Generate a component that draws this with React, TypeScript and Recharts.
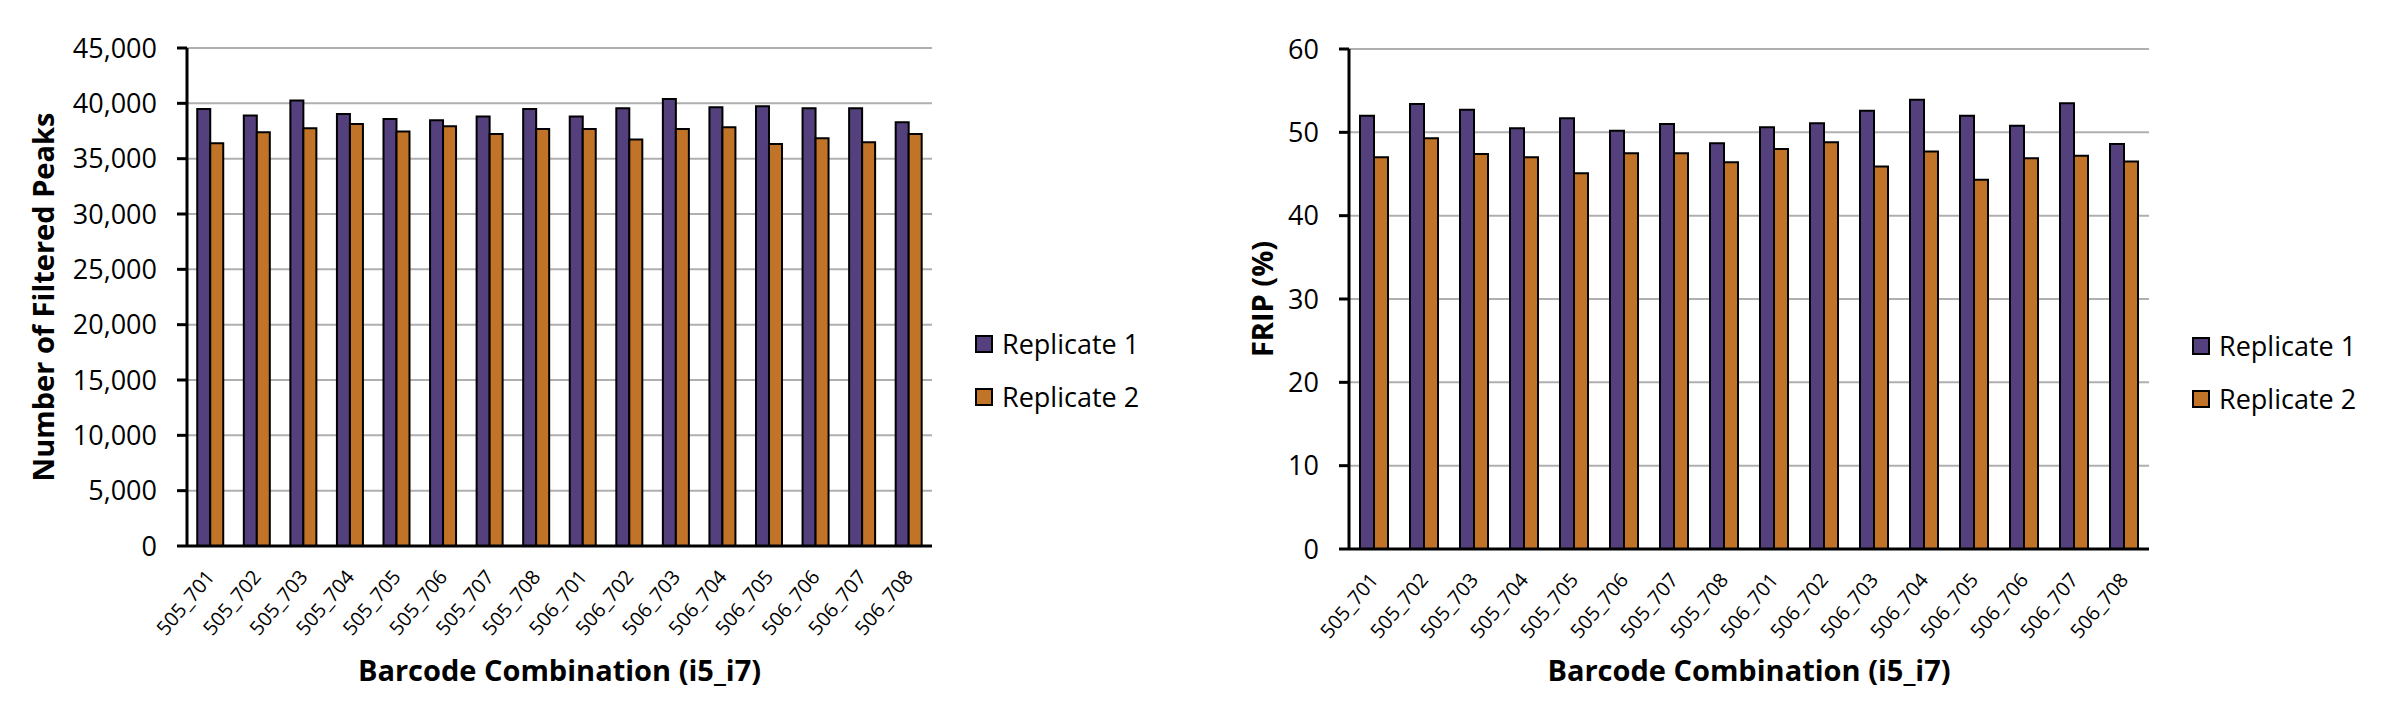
import { BarChart, Bar, XAxis, YAxis, CartesianGrid, Legend, Label } from 'recharts';

const barcodes = [
  '505_701', '505_702', '505_703', '505_704', '505_705', '505_706', '505_707', '505_708',
  '506_701', '506_702', '506_703', '506_704', '506_705', '506_706', '506_707', '506_708',
];

const peaksRep1 = [39480, 38900, 40260, 39030, 38580, 38480, 38810, 39480, 38810, 39550, 40390, 39650, 39740, 39550, 39550, 38290];
const peaksRep2 = [36390, 37390, 37740, 38130, 37450, 37940, 37230, 37680, 37680, 36740, 37680, 37840, 36320, 36840, 36480, 37230];
const peaksTicks = [0, 5000, 10000, 15000, 20000, 25000, 30000, 35000, 40000, 45000];

const fripRep1 = [52.0, 53.4, 52.7, 50.5, 51.7, 50.2, 51.0, 48.7, 50.6, 51.1, 52.6, 53.9, 52.0, 50.8, 53.5, 48.6];
const fripRep2 = [47.0, 49.3, 47.4, 47.0, 45.1, 47.5, 47.5, 46.4, 48.0, 48.8, 45.9, 47.7, 44.3, 46.9, 47.2, 46.5];
const fripTicks = [0, 10, 20, 30, 40, 50, 60];

const seriesNames = ['Replicate 1', 'Replicate 2'];
const seriesColors = ['#54407C', '#C17428'];

const FONT = '"Open Sans", sans-serif';

// slanted category labels, ending at the category centre
const SlantTick = (props: any) => {
  const { x, y, payload } = props;
  const ty = y + 27;
  return (
    <text
      x={x}
      y={ty}
      transform={`rotate(-50 ${x} ${ty})`}
      textAnchor="end"
      dy="0.35em"
      fontSize={20}
      fontFamily={FONT}
      fill="#000"
    >
      {payload.value}
    </text>
  );
};

const LegendBox = () => (
  <div style={{ fontFamily: FONT, fontSize: 27, color: '#000' }}>
    {seriesNames.map((name, i) => (
      <div key={name} style={{ display: 'flex', alignItems: 'center', height: 53 }}>
        <span
          style={{
            width: 14,
            height: 14,
            background: seriesColors[i],
            border: '2px solid #000',
            marginRight: 9,
          }}
        />
        <span>{name}</span>
      </div>
    ))}
  </div>
);

type ChartProps = {
  rep1: number[];
  rep2: number[];
  ticks: number[];
  yTitle: string;
  yAxisWidth: number;
  yTitleX: number;
  top: number;
  right: number;
  xAxisHeight: number;
  legendLeft: number;
  legendTop: number;
  fmt: (v: number) => string;
};

function ReplicateChart(p: ChartProps) {
  const rows = barcodes.map((b, i) => ({ name: b, r1: p.rep1[i], r2: p.rep2[i] }));
  const width = 1191;
  const plotMidX = p.yAxisWidth + (width - p.yAxisWidth - p.right) / 2;
  const plotMidY = p.top + (710 - p.top - 24 - p.xAxisHeight) / 2;
  return (
    <BarChart
      width={width}
      height={710}
      data={rows}
      margin={{ top: p.top, right: p.right, bottom: 24, left: 0 }}
      barCategoryGap="22%"
      barGap={0}
    >
      <CartesianGrid vertical={false} stroke="#AFAFAF" strokeWidth={2} />
      <XAxis
        dataKey="name"
        interval={0}
        height={p.xAxisHeight}
        tickLine={false}
        tickSize={0}
        tickMargin={0}
        axisLine={{ stroke: '#000', strokeWidth: 3 }}
        tick={<SlantTick />}
      >
        <Label
          content={() => (
            <text
              x={plotMidX}
              y={681}
              textAnchor="middle"
              fontSize={29}
              fontWeight={700}
              fontFamily={FONT}
              fill="#000"
            >
              Barcode Combination (i5_i7)
            </text>
          )}
        />
      </XAxis>
      <YAxis
        width={p.yAxisWidth}
        domain={[0, p.ticks[p.ticks.length - 1]]}
        ticks={p.ticks}
        interval={0}
        tickSize={10}
        tickMargin={20}
        tickFormatter={p.fmt}
        tickLine={{ stroke: '#000', strokeWidth: 3 }}
        axisLine={{ stroke: '#000', strokeWidth: 3 }}
        tick={{ fill: '#000', fontSize: 27, fontFamily: FONT }}
      >
        <Label
          content={() => (
            <text
              x={p.yTitleX}
              y={plotMidY}
              transform={`rotate(-90 ${p.yTitleX} ${plotMidY})`}
              textAnchor="middle"
              dominantBaseline="central"
              fontSize={29}
              fontWeight={700}
              fontFamily={FONT}
              fill="#000"
            >
              {p.yTitle}
            </text>
          )}
        />
      </YAxis>
      <Legend
        layout="horizontal"
        align="center"
        verticalAlign="middle"
        content={<LegendBox />}
        wrapperStyle={{ left: p.legendLeft, top: p.legendTop, width: 220 }}
      />
      <Bar dataKey="r1" name={seriesNames[0]} fill={seriesColors[0]} stroke="#000" strokeWidth={2} isAnimationActive={false} />
      <Bar dataKey="r2" name={seriesNames[1]} fill={seriesColors[1]} stroke="#000" strokeWidth={2} isAnimationActive={false} />
    </BarChart>
  );
}

export default function App() {
  return (
    <div style={{ position: 'absolute', left: 0, top: 0, width: 2382, height: 710, background: '#fff' }}>
      <div style={{ position: 'absolute', left: 0, top: 0 }}>
        <ReplicateChart
          rep1={peaksRep1}
          rep2={peaksRep2}
          ticks={peaksTicks}
          yTitle="Number of Filtered Peaks"
          yAxisWidth={187}
          yTitleX={42}
          top={48}
          right={259}
          xAxisHeight={140}
          legendLeft={975}
          legendTop={317}
          fmt={(v) => v.toLocaleString('en-US')}
        />
      </div>
      <div style={{ position: 'absolute', left: 1191, top: 0 }}>
        <ReplicateChart
          rep1={fripRep1}
          rep2={fripRep2}
          ticks={fripTicks}
          yTitle="FRIP (%)"
          yAxisWidth={158}
          yTitleX={70}
          top={49}
          right={233}
          xAxisHeight={137}
          legendLeft={1001}
          legendTop={319}
          fmt={(v) => String(v)}
        />
      </div>
    </div>
  );
}
